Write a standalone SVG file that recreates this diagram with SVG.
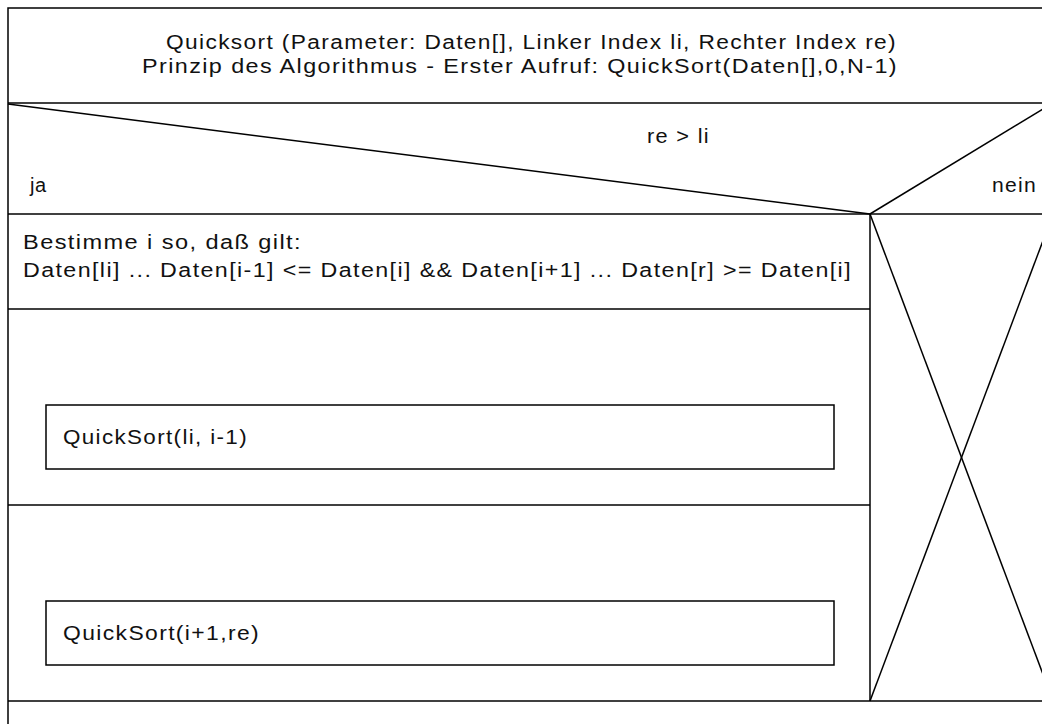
<svg xmlns="http://www.w3.org/2000/svg" width="1042" height="724" viewBox="0 0 1042 724">
<style>
.ln{stroke:#000;stroke-width:1.5;fill:none}
.box{stroke:#000;stroke-width:1.5;fill:#fff}
.t{font-family:"Liberation Sans",Arial,sans-serif;font-size:20px;letter-spacing:1.2px;fill:#111}
</style>
<rect x="0" y="0" width="1042" height="724" fill="#fff"/>
<g id="frame">
<path class="ln" d="M8,730 V8 H1053 V730"/>
</g>
<g id="header">
<text class="t" x="166" y="49" textLength="731" lengthAdjust="spacingAndGlyphs">Quicksort (Parameter: Daten[], Linker Index li, Rechter Index re)</text>
<text class="t" x="142" y="73" textLength="756" lengthAdjust="spacingAndGlyphs">Prinzip des Algorithmus - Erster Aufruf: QuickSort(Daten[],0,N-1)</text>
</g>
<g id="decision">
<line class="ln" x1="8" y1="103" x2="1053" y2="103"/>
<line class="ln" x1="8" y1="104" x2="870" y2="214"/>
<line class="ln" x1="870" y1="214" x2="1053" y2="103"/>
<line class="ln" x1="8" y1="214" x2="1053" y2="214"/>
<text class="t" x="647" y="143" textLength="63" lengthAdjust="spacingAndGlyphs">re &gt; li</text>
<text class="t" x="30" y="192" style="letter-spacing:0.5px">ja</text>
<text class="t" x="992" y="192" textLength="45" lengthAdjust="spacingAndGlyphs">nein</text>
</g>
<g id="step1">
<line class="ln" x1="8" y1="309" x2="870" y2="309"/>
<text class="t" x="23" y="249" textLength="279" lengthAdjust="spacingAndGlyphs">Bestimme i so, daß gilt:</text>
<text class="t" x="23" y="277" textLength="829" lengthAdjust="spacingAndGlyphs">Daten[li] ... Daten[i-1] &lt;= Daten[i] &amp;&amp; Daten[i+1] ... Daten[r] &gt;= Daten[i]</text>
</g>
<g id="call1">
<line class="ln" x1="8" y1="505" x2="870" y2="505"/>
<rect class="box" x="46" y="405" width="788" height="64"/>
<text class="t" x="63" y="444" textLength="185" lengthAdjust="spacingAndGlyphs">QuickSort(li, i-1)</text>
</g>
<g id="call2">
<line class="ln" x1="8" y1="701" x2="1053" y2="701"/>
<rect class="box" x="46" y="601" width="788" height="64"/>
<text class="t" x="63" y="640" textLength="197" lengthAdjust="spacingAndGlyphs">QuickSort(i+1,re)</text>
</g>
<g id="nein-branch">
<line class="ln" x1="870" y1="214" x2="870" y2="701"/>
<line class="ln" x1="870" y1="214" x2="1053" y2="701"/>
<line class="ln" x1="870" y1="701" x2="1053" y2="214"/>
</g>
</svg>
